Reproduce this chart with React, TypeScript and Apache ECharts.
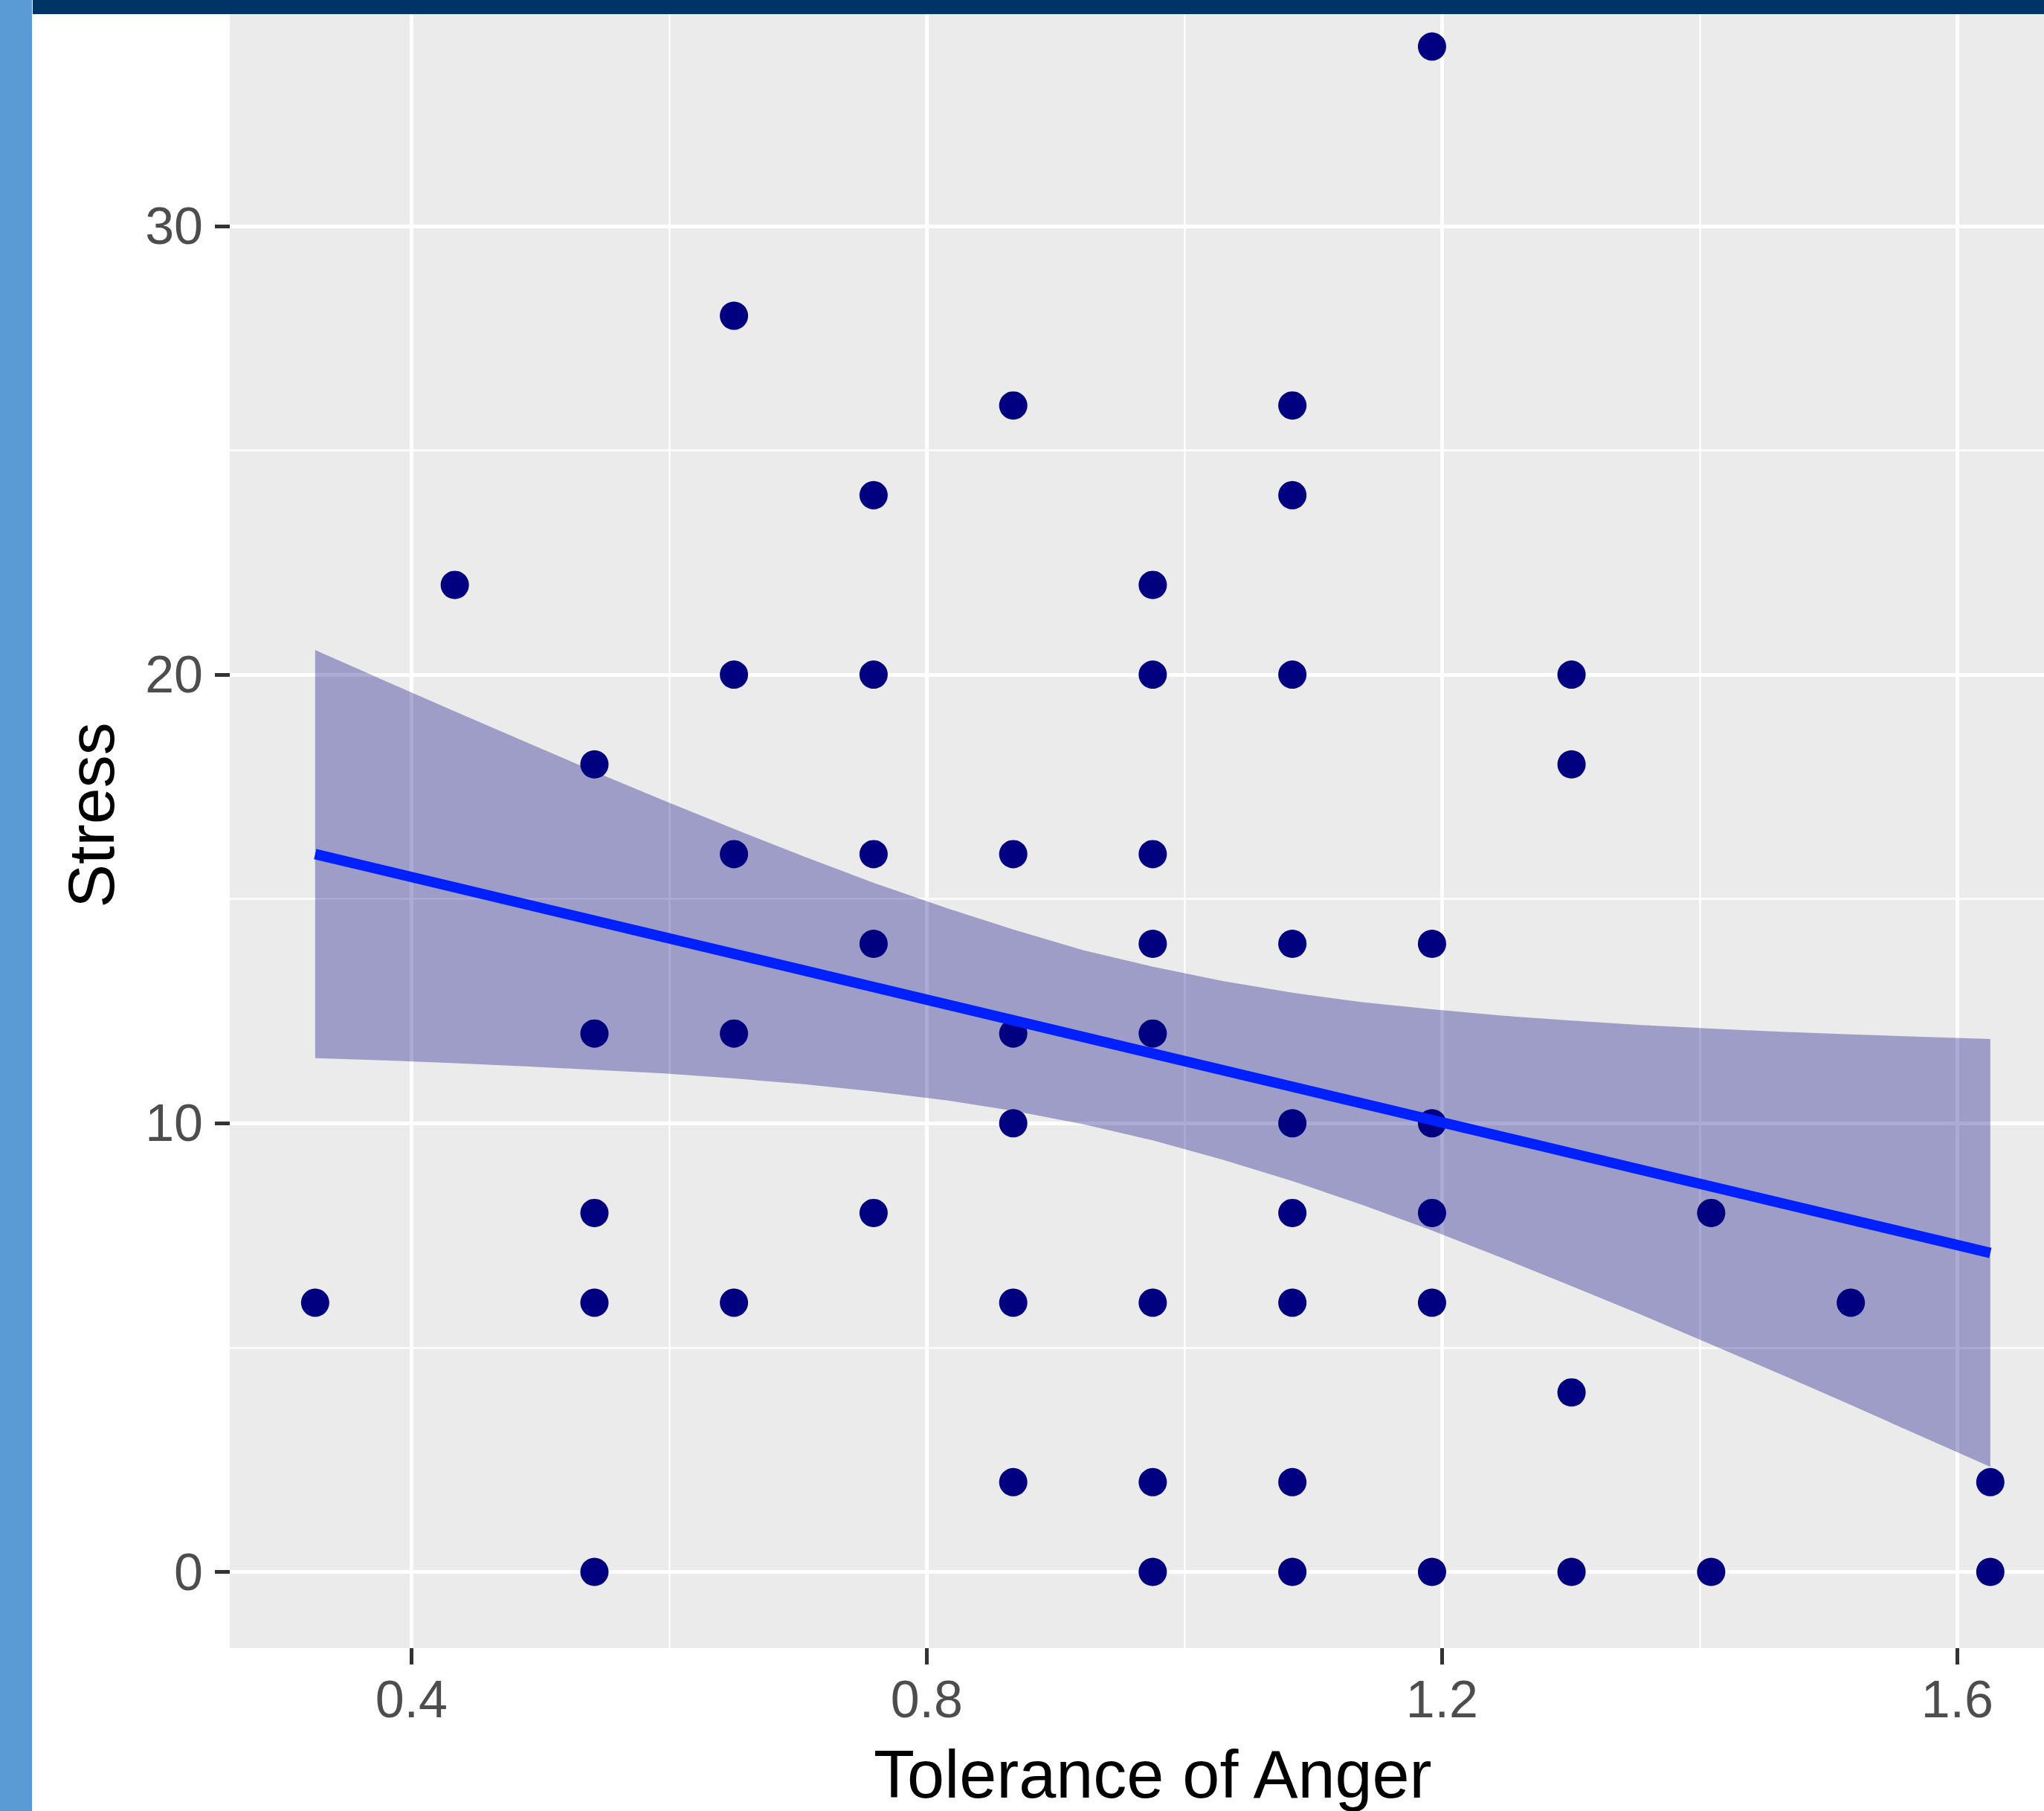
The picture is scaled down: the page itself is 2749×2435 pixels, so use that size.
import React, { useEffect, useRef } from "react";
import * as echarts from "echarts";

// ---- data ----
const tolerance = [
  0.3253,
  0.4337,
  0.5421, 0.5421, 0.5421, 0.5421, 0.5421,
  0.6504, 0.6504, 0.6504, 0.6504, 0.6504,
  0.7588, 0.7588, 0.7588, 0.7588, 0.7588,
  0.8672, 0.8672, 0.8672, 0.8672, 0.8672, 0.8672,
  0.9755, 0.9755, 0.9755, 0.9755, 0.9755, 0.9755, 0.9755, 0.9755,
  1.0839, 1.0839, 1.0839, 1.0839, 1.0839, 1.0839, 1.0839, 1.0839, 1.0839,
  1.1923, 1.1923, 1.1923, 1.1923, 1.1923, 1.1923,
  1.3006, 1.3006, 1.3006, 1.3006,
  1.409, 1.409,
  1.5174,
  1.6257, 1.6257,
];
const stress = [
  6,
  22,
  18, 12, 8, 6, 0,
  28, 20, 16, 12, 6,
  24, 20, 16, 14, 8,
  26, 16, 12, 10, 6, 2,
  22, 20, 16, 14, 12, 6, 2, 0,
  26, 24, 20, 14, 10, 8, 6, 2, 0,
  34, 14, 10, 8, 6, 0,
  20, 18, 4, 0,
  8, 0,
  6,
  2, 0,
];

// fitted line and its confidence band
const fitX = [0.3253, 1.6257];
const fitY = [16.0, 7.11];
const bandX = [
  0.3253, 0.3795, 0.4337, 0.4879, 0.5421, 0.5962, 0.6504, 0.7046, 0.7588, 0.813,
  0.8672, 0.9213, 0.9755, 1.0297, 1.0839, 1.1381, 1.1923, 1.2464, 1.3006, 1.3548,
  1.409, 1.4632, 1.5174, 1.5715, 1.6257,
];
const bandUpper = [
  20.55, 19.86, 19.18, 18.51, 17.84, 17.19, 16.56, 15.95, 15.36, 14.82,
  14.32, 13.86, 13.49, 13.17, 12.91, 12.7, 12.54, 12.4, 12.29, 12.19,
  12.11, 12.04, 11.98, 11.93, 11.88,
];
const bandLower = [
  11.45, 11.4, 11.34, 11.27, 11.19, 11.11, 11.0, 10.87, 10.71, 10.52,
  10.28, 9.98, 9.62, 9.19, 8.71, 8.18, 7.61, 7.0, 6.37, 5.73,
  5.07, 4.4, 3.72, 3.03, 2.34,
];

const xTicks = [0.4, 0.8, 1.2, 1.6];
const yTicks = [0, 10, 20, 30];
const xRange = [0.259, 1.692];
const yRange = [-1.7, 35.7];

const xTitle = "Tolerance of Anger";
const yTitle = "Stress";

// ---- layout (pixels) ----
const W = 2749;
const H = 2435;
const FONT = "'Liberation Sans', Arial, Helvetica, sans-serif";
const panelLeft = 309;
const pxPerX = 1732.5;
const zeroY = 2113.5;
const pxPerY = 60.32;

export default function App() {
  const ref = useRef<HTMLDivElement>(null);

  useEffect(() => {
    if (!ref.current) return;
    const chart = echarts.init(ref.current, undefined, { renderer: "svg" });

    const panelTop = zeroY - yRange[1] * pxPerY;
    const panelBottom = zeroY - yRange[0] * pxPerY;
    const panelWidth = (xRange[1] - xRange[0]) * pxPerX;
    const xTickLeft = panelLeft + (xTicks[0] - xRange[0]) * pxPerX;
    const xTickWidth = (xTicks[xTicks.length - 1] - xTicks[0]) * pxPerX;
    const yTickTop = zeroY - yTicks[yTicks.length - 1] * pxPerY;
    const yTickHeight = (yTicks[yTicks.length - 1] - yTicks[0]) * pxPerY;

    const points = tolerance.map((x, i) => [x, stress[i]]);

    const hidden = {
      axisLine: { show: false },
      axisTick: { show: false },
      axisLabel: { show: false },
      splitLine: { show: false },
    };

    chart.setOption({
      animation: false,
      backgroundColor: "#ffffff",
      grid: [
        {
          left: panelLeft,
          top: panelTop,
          width: panelWidth,
          height: panelBottom - panelTop,
          show: true,
          backgroundColor: "#EBEBEB",
          borderWidth: 0,
          borderColor: "transparent",
          outerBoundsMode: "none",
          containLabel: false,
          z: -1,
        },
        {
          left: panelLeft,
          top: yTickTop,
          width: W - panelLeft,
          height: yTickHeight,
          outerBoundsMode: "none",
          containLabel: false,
        },
        {
          left: xTickLeft,
          top: 0,
          width: xTickWidth,
          height: panelBottom,
          outerBoundsMode: "none",
          containLabel: false,
        },
      ],
      xAxis: [
        {
          type: "value",
          gridIndex: 0,
          min: xRange[0],
          max: xRange[1],
          ...hidden,
          name: xTitle,
          nameLocation: "middle",
          nameGap: 125,
          nameMoveOverlap: false,
          nameTextStyle: {
            fontFamily: FONT,
            fontSize: 90,
            lineHeight: 90,
            color: "#000000",
          },
        },
        { type: "value", gridIndex: 1, min: 0, max: 1, show: false, ...hidden },
        {
          type: "value",
          gridIndex: 2,
          min: xTicks[0],
          max: xTicks[xTicks.length - 1],
          interval: xTicks[1] - xTicks[0],
          axisLine: { show: false },
          axisTick: { show: true, inside: false, length: 22, lineStyle: { color: "#333333", width: 5 } },
          axisLabel: {
            show: true,
            margin: 34,
            fontFamily: FONT,
            fontSize: 70,
            lineHeight: 70,
            color: "#4D4D4D",
          },
          splitLine: { show: true, lineStyle: { color: "#FFFFFF", width: 5 } },
          minorTick: { show: false, splitNumber: 2 },
          minorSplitLine: { show: true, lineStyle: { color: "#FFFFFF", width: 2.5 } },
        },
      ],
      yAxis: [
        { type: "value", gridIndex: 0, min: yRange[0], max: yRange[1], ...hidden },
        {
          type: "value",
          gridIndex: 1,
          min: yTicks[0],
          max: yTicks[yTicks.length - 1],
          interval: yTicks[1] - yTicks[0],
          axisLine: { show: false },
          axisTick: { show: true, inside: false, length: 20, lineStyle: { color: "#333333", width: 5 } },
          axisLabel: {
            show: true,
            margin: 36,
            fontFamily: FONT,
            fontSize: 70,
            lineHeight: 70,
            color: "#4D4D4D",
          },
          splitLine: { show: true, lineStyle: { color: "#FFFFFF", width: 5 } },
          minorTick: { show: false, splitNumber: 2 },
          minorSplitLine: { show: true, lineStyle: { color: "#FFFFFF", width: 2.5 } },
        },
        { type: "value", gridIndex: 2, min: 0, max: 1, show: false, ...hidden },
      ],
      series: [
        {
          type: "scatter",
          xAxisIndex: 0,
          yAxisIndex: 0,
          data: points,
          symbol: "circle",
          symbolSize: 38,
          itemStyle: { color: "#000080", opacity: 1 },
          z: 2,
        },
        {
          type: "custom",
          xAxisIndex: 0,
          yAxisIndex: 0,
          data: [[bandX[0], bandLower[0]]],
          z: 3,
          renderItem: (_params: any, api: any) => {
            const pts: number[][] = [];
            for (let i = 0; i < bandX.length; i++) pts.push(api.coord([bandX[i], bandUpper[i]]));
            for (let i = bandX.length - 1; i >= 0; i--) pts.push(api.coord([bandX[i], bandLower[i]]));
            return {
              type: "polygon",
              shape: { points: pts },
              style: { fill: "rgba(0,0,128,0.33)", stroke: "none" },
            };
          },
        },
        {
          type: "line",
          xAxisIndex: 0,
          yAxisIndex: 0,
          data: fitX.map((x, i) => [x, fitY[i]]),
          showSymbol: false,
          symbol: "none",
          lineStyle: { color: "#0020FF", width: 14 },
          z: 4,
        },
      ],
      graphic: [
        {
          type: "text",
          x: 122,
          y: 1096,
          rotation: Math.PI / 2,
          z: 50,
          style: {
            text: yTitle,
            x: 0,
            y: 0,
            fontFamily: FONT,
            fontSize: 88,
            fill: "#000000",
            align: "center",
            verticalAlign: "middle",
            textAlign: "center",
            textVerticalAlign: "middle",
          },
        },
        {
          type: "rect",
          z: 100,
          shape: { x: 0, y: 0, width: 43, height: H },
          style: { fill: "#5B9BD5" },
        },
        {
          type: "rect",
          z: 100,
          shape: { x: 44, y: 0, width: W - 44, height: 19 },
          style: { fill: "#003366" },
        },
      ],
    });

    return () => chart.dispose();
  }, []);

  return (
    <div
      ref={ref}
      style={{ position: "absolute", left: 0, top: 0, width: W, height: H }}
    />
  );
}
